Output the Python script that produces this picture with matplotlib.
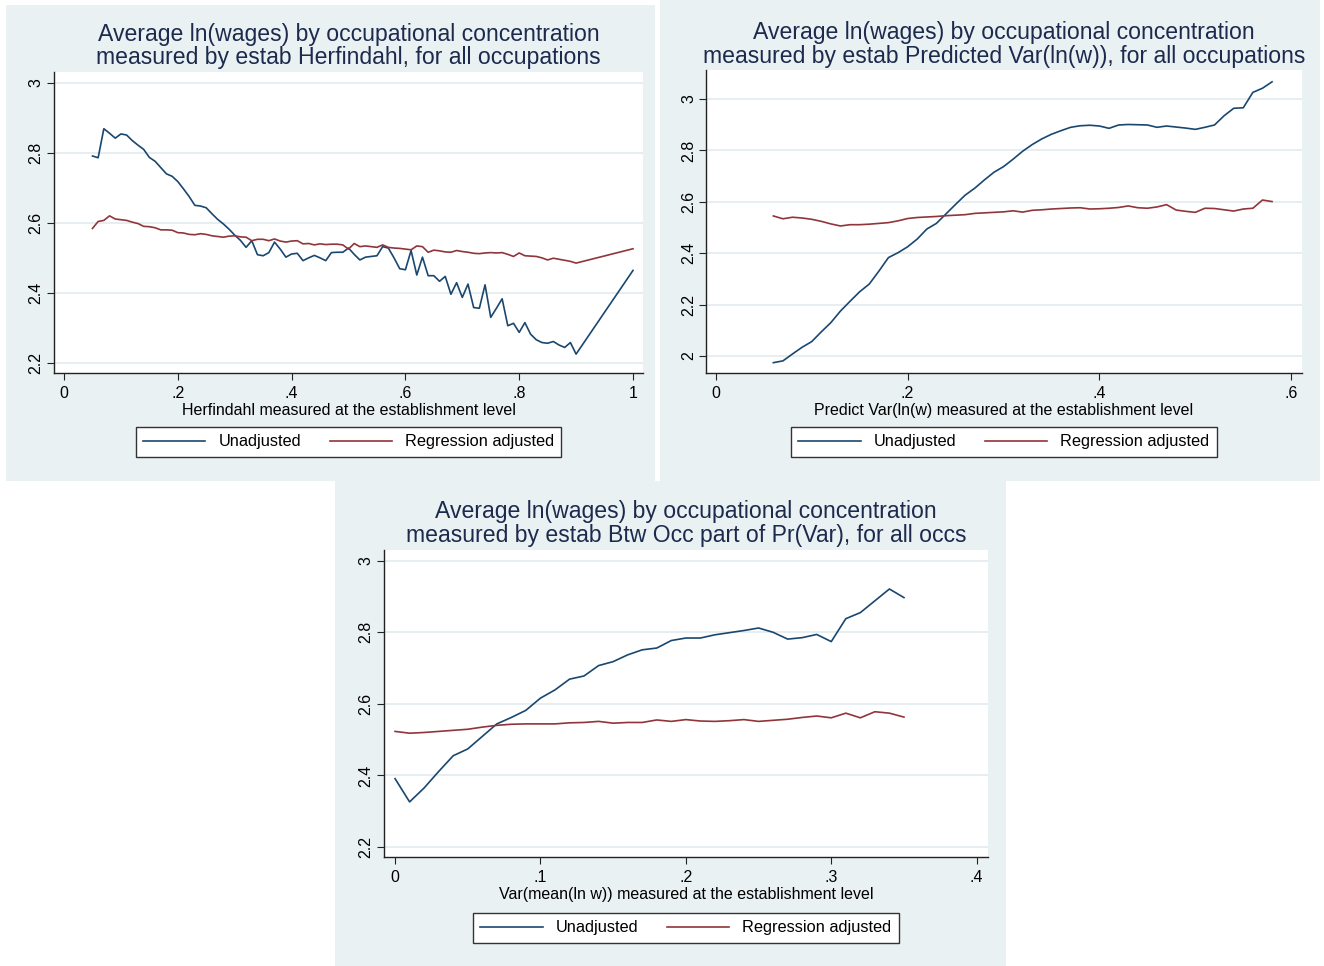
import matplotlib
matplotlib.use("Agg")
import matplotlib.pyplot as plt
from matplotlib.patches import Rectangle
from matplotlib.lines import Line2D

plt.rcParams['font.family'] = ['Liberation Sans', 'DejaVu Sans']

## Data
# panel 1: Herfindahl
herf_x = [0.05, 0.06, 0.07, 0.08, 0.09, 0.10, 0.11, 0.12, 0.13, 0.14,
          0.15, 0.16, 0.17, 0.18, 0.19, 0.20, 0.21, 0.22, 0.23, 0.24,
          0.25, 0.26, 0.27, 0.28, 0.29, 0.30, 0.31, 0.32, 0.33, 0.34,
          0.35, 0.36, 0.37, 0.38, 0.39, 0.40, 0.41, 0.42, 0.43, 0.44,
          0.45, 0.46, 0.47, 0.48, 0.49, 0.50, 0.51, 0.52, 0.53, 0.54,
          0.55, 0.56, 0.57, 0.58, 0.59, 0.60, 0.61, 0.62, 0.63, 0.64,
          0.65, 0.66, 0.67, 0.68, 0.69, 0.70, 0.71, 0.72, 0.73, 0.74,
          0.75, 0.76, 0.77, 0.78, 0.79, 0.80, 0.81, 0.82, 0.83, 0.84,
          0.85, 0.86, 0.87, 0.88, 0.89, 0.90, 1.00]
herf_unadj = [2.791, 2.786, 2.869, 2.856, 2.842, 2.854, 2.851, 2.835, 2.822, 2.810,
              2.787, 2.776, 2.758, 2.740, 2.733, 2.718, 2.697, 2.675, 2.650, 2.648,
              2.643, 2.626, 2.610, 2.597, 2.582, 2.565, 2.550, 2.530, 2.549, 2.509,
              2.506, 2.515, 2.545, 2.525, 2.502, 2.511, 2.513, 2.492, 2.500, 2.507,
              2.500, 2.492, 2.515, 2.516, 2.516, 2.528, 2.510, 2.494, 2.502, 2.504,
              2.506, 2.532, 2.528, 2.500, 2.469, 2.466, 2.521, 2.451, 2.502, 2.449,
              2.449, 2.433, 2.447, 2.396, 2.429, 2.387, 2.425, 2.358, 2.356, 2.423,
              2.330, 2.356, 2.383, 2.306, 2.313, 2.287, 2.315, 2.282, 2.266, 2.258,
              2.256, 2.261, 2.251, 2.244, 2.258, 2.225, 2.464]
herf_adj = [2.584, 2.604, 2.607, 2.620, 2.611, 2.609, 2.607, 2.602, 2.598, 2.590,
            2.589, 2.586, 2.580, 2.580, 2.579, 2.572, 2.571, 2.567, 2.566, 2.569,
            2.567, 2.563, 2.561, 2.559, 2.562, 2.563, 2.560, 2.559, 2.549, 2.553,
            2.553, 2.549, 2.554, 2.548, 2.545, 2.548, 2.549, 2.540, 2.541, 2.537,
            2.540, 2.538, 2.539, 2.539, 2.537, 2.525, 2.541, 2.532, 2.534, 2.532,
            2.530, 2.537, 2.530, 2.528, 2.527, 2.525, 2.523, 2.534, 2.532, 2.516,
            2.522, 2.520, 2.517, 2.516, 2.521, 2.518, 2.516, 2.513, 2.512, 2.514,
            2.515, 2.514, 2.515, 2.510, 2.504, 2.514, 2.506, 2.505, 2.504, 2.500,
            2.494, 2.499, 2.496, 2.493, 2.490, 2.485, 2.526]

# panel 2: predicted Var(ln w)
pvar_x = [0.06, 0.07, 0.08, 0.09, 0.10, 0.11, 0.12, 0.13, 0.14, 0.15,
          0.16, 0.17, 0.18, 0.19, 0.20, 0.21, 0.22, 0.23, 0.24, 0.25,
          0.26, 0.27, 0.28, 0.29, 0.30, 0.31, 0.32, 0.33, 0.34, 0.35,
          0.36, 0.37, 0.38, 0.39, 0.40, 0.41, 0.42, 0.43, 0.44, 0.45,
          0.46, 0.47, 0.48, 0.49, 0.50, 0.51, 0.52, 0.53, 0.54, 0.55,
          0.56, 0.57, 0.58]
pvar_unadj = [1.974, 1.981, 2.008, 2.034, 2.056, 2.094, 2.130, 2.175, 2.213, 2.250,
              2.280, 2.330, 2.383, 2.402, 2.425, 2.455, 2.494, 2.516, 2.553, 2.590,
              2.626, 2.653, 2.685, 2.715, 2.737, 2.766, 2.797, 2.823, 2.845, 2.863,
              2.877, 2.890, 2.896, 2.898, 2.895, 2.886, 2.899, 2.901, 2.900, 2.899,
              2.890, 2.895, 2.891, 2.887, 2.882, 2.890, 2.899, 2.935, 2.964, 2.966,
              3.026, 3.042, 3.067]
pvar_adj = [2.545, 2.534, 2.540, 2.537, 2.532, 2.524, 2.514, 2.506, 2.511, 2.511,
            2.513, 2.516, 2.519, 2.526, 2.535, 2.539, 2.541, 2.543, 2.546, 2.548,
            2.550, 2.555, 2.557, 2.559, 2.561, 2.565, 2.560, 2.567, 2.569, 2.572,
            2.574, 2.576, 2.577, 2.572, 2.573, 2.575, 2.578, 2.584, 2.577, 2.575,
            2.580, 2.589, 2.568, 2.563, 2.559, 2.575, 2.574, 2.569, 2.564, 2.572,
            2.575, 2.607, 2.601]

# panel 3: between-occupation part
btw_x = [0.00, 0.01, 0.02, 0.03, 0.04, 0.05, 0.06, 0.07, 0.08, 0.09,
         0.10, 0.11, 0.12, 0.13, 0.14, 0.15, 0.16, 0.17, 0.18, 0.19,
         0.20, 0.21, 0.22, 0.23, 0.24, 0.25, 0.26, 0.27, 0.28, 0.29,
         0.30, 0.31, 0.32, 0.33, 0.34, 0.35]
btw_unadj = [2.391, 2.326, 2.365, 2.411, 2.455, 2.474, 2.509, 2.544, 2.562, 2.582,
             2.616, 2.639, 2.669, 2.678, 2.707, 2.718, 2.737, 2.751, 2.756, 2.777,
             2.784, 2.784, 2.793, 2.799, 2.805, 2.812, 2.800, 2.781, 2.785, 2.794,
             2.774, 2.838, 2.855, 2.888, 2.921, 2.897]
btw_adj = [2.523, 2.518, 2.520, 2.523, 2.526, 2.529, 2.535, 2.540, 2.543, 2.544,
           2.544, 2.544, 2.547, 2.548, 2.551, 2.546, 2.548, 2.548, 2.555, 2.551,
           2.556, 2.552, 2.551, 2.553, 2.556, 2.551, 2.554, 2.557, 2.562, 2.566,
           2.561, 2.574, 2.561, 2.578, 2.574, 2.563]

W, H = 1324, 966
BG = '#EAF1F3'
GRID = '#E4EDF0'
NAVY = '#1A476F'
MAROON = '#90353B'
TITLE = '#1C2A4D'
FS = 11.5

fig = plt.figure(figsize=(W / 100, H / 100), dpi=100)
fig.patch.set_facecolor('white')


def fx(x):
    return x / W


def fy(y):
    return 1 - y / H


def panel(box, axpx, xlim, ylim, xticks, xlabs, yticks, ylabs,
          x, unadj, adj, titles, title_base, xlabel, leg_top):
    # light panel background (graph region)
    fig.add_artist(Rectangle((fx(box[0]), fy(box[3])), (box[2] - box[0]) / W,
                             (box[3] - box[1]) / H, transform=fig.transFigure,
                             facecolor=BG, edgecolor='none', zorder=-1))
    x0, y0, x1, y1 = axpx
    ax = fig.add_axes([fx(x0), fy(y1), (x1 - x0) / W, (y1 - y0) / H])
    ax.set_facecolor('white')
    ax.plot(x, unadj, color=NAVY, lw=1.2, label='Unadjusted')
    ax.plot(x, adj, color=MAROON, lw=1.2, label='Regression adjusted')
    ax.set_xlim(*xlim)
    ax.set_ylim(*ylim)
    ax.set_xticks(xticks, xlabs)
    ax.set_yticks(yticks, ylabs)
    plt.setp(ax.get_yticklabels(), rotation=90, va='center')
    ax.tick_params(axis='both', length=5, width=0.8, color='#222222',
                   labelsize=FS, labelcolor='black')
    ax.tick_params(axis='x', pad=4.5)
    ax.tick_params(axis='y', pad=2.5)
    for s in ['top', 'right']:
        ax.spines[s].set_visible(False)
    for s in ['left', 'bottom']:
        ax.spines[s].set_color('#222222')
        ax.spines[s].set_linewidth(1.0)
    ax.yaxis.grid(True, color=GRID, lw=1.3)
    ax.set_axisbelow(True)
    ax.set_xlabel(xlabel, fontsize=FS, labelpad=1.5)

    cx = (x0 + x1) / 2
    for t, b in zip(titles, title_base):
        fig.text(fx(cx), fy(b), t, ha='center', va='baseline',
                 fontsize=16.6, color=TITLE)

    handles = [Line2D([], [], color=NAVY, lw=1.2),
               Line2D([], [], color=MAROON, lw=1.2)]
    leg = ax.legend(handles, ['Unadjusted', 'Regression adjusted'],
                    loc='upper center', bbox_to_anchor=(fx(cx), fy(leg_top)),
                    bbox_transform=fig.transFigure, ncol=2, frameon=True,
                    fancybox=False, framealpha=1, edgecolor='#333333',
                    borderaxespad=0, borderpad=0.45, handlelength=3.8,
                    handletextpad=0.8, columnspacing=1.75, fontsize=11.8)
    leg.get_frame().set_linewidth(1.0)
    return ax


panel((6, 5, 655, 481), (54, 72, 643, 373), (-0.0176, 1.0176), (2.171, 3.031),
      [0, 0.2, 0.4, 0.6, 0.8, 1], ['0', '.2', '.4', '.6', '.8', '1'],
      [2.2, 2.4, 2.6, 2.8, 3], ['2.2', '2.4', '2.6', '2.8', '3'],
      herf_x, herf_unadj, herf_adj,
      ['Average ln(wages) by occupational concentration',
       'measured by estab Herfindahl, for all occupations'], [41.5, 64],
      'Herfindahl measured at the establishment level', 427)

panel((660, 0, 1320, 481), (706.5, 70, 1301.5, 372.7), (-0.0097, 0.6107), (1.935, 3.113),
      [0, 0.2, 0.4, 0.6], ['0', '.2', '.4', '.6'],
      [2, 2.2, 2.4, 2.6, 2.8, 3], ['2', '2.2', '2.4', '2.6', '2.8', '3'],
      pvar_x, pvar_unadj, pvar_adj,
      ['Average ln(wages) by occupational concentration',
       'measured by estab Predicted Var(ln(w)), for all occupations'], [39.3, 62.7],
      'Predict Var(ln(w) measured at the establishment level', 427)

panel((335, 481, 1006, 966), (384, 550, 988, 857), (-0.0076, 0.4078), (2.172, 3.030),
      [0, 0.1, 0.2, 0.3, 0.4], ['0', '.1', '.2', '.3', '.4'],
      [2.2, 2.4, 2.6, 2.8, 3], ['2.2', '2.4', '2.6', '2.8', '3'],
      btw_x, btw_unadj, btw_adj,
      ['Average ln(wages) by occupational concentration',
       'measured by estab Btw Occ part of Pr(Var), for all occs'], [517.7, 541.7],
      'Var(mean(ln w)) measured at the establishment level', 913)

fig.savefig('out.png', dpi=100, facecolor='white')
